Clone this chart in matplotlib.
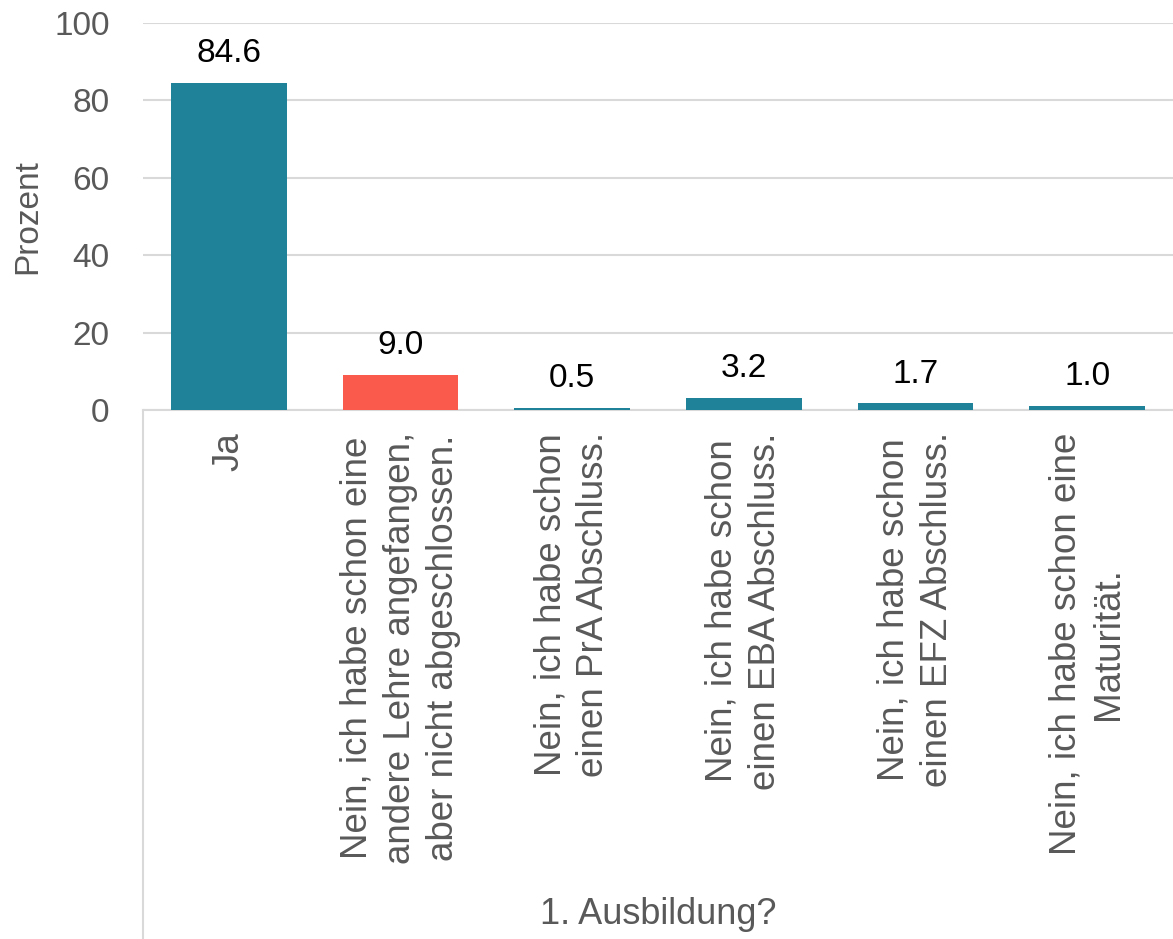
import matplotlib.pyplot as plt

plt.rcParams['font.family'] = ['Liberation Sans', 'DejaVu Sans']

categories = [
    "Ja",
    "Nein, ich habe schon eine\nandere Lehre angefangen,\naber nicht abgeschlossen.",
    "Nein, ich habe schon\neinen PrA Abschluss.",
    "Nein, ich habe schon\neinen EBA Abschluss.",
    "Nein, ich habe schon\neinen EFZ Abschluss.",
    "Nein, ich habe schon eine\nMaturität.",
]
values = [84.6, 9.0, 0.5, 3.2, 1.7, 1.0]
colors = ["#1f8299", "#fa5a4b", "#1f8299", "#1f8299", "#1f8299", "#1f8299"]

grid_col = "#d9d9d9"
text_col = "#595959"

fig = plt.figure(figsize=(11.73, 9.39), dpi=100)
ax = fig.add_axes([143 / 1173, 1 - 410 / 939, 1 - 143 / 1173, 387 / 939])

x = range(len(categories))
bars = ax.bar(x, values, width=0.675, color=colors, zorder=3)

for xi, v in zip(x, values):
    ax.annotate(f"{v:.1f}", (xi, v), xytext=(0, 10), textcoords="offset points",
                ha="center", va="bottom", fontsize=24, color="black")

ax.set_xlim(-0.5, len(categories) - 0.5)
ax.set_ylim(0, 100)
ax.set_yticks([0, 20, 40, 60, 80, 100])
ax.yaxis.grid(True, color=grid_col, linewidth=1.5, zorder=0)

ax.set_xticks(list(x))
ax.set_xticklabels(categories, rotation=90, ha="center", va="top", fontsize=26.5,
                   color=text_col, linespacing=1.3)
ax.tick_params(axis="x", length=0, pad=16)
ax.tick_params(axis="y", length=0, pad=24, labelsize=24, labelcolor=text_col)

for s in ["top", "right", "left"]:
    ax.spines[s].set_visible(False)
ax.spines["bottom"].set_color(grid_col)
ax.spines["bottom"].set_linewidth(1.5)

# category axis line running down through the labels
ax.plot([0, 0], [0, -1.4], transform=ax.transAxes, color=grid_col, lw=1.5, clip_on=False)

ax.set_ylabel("Prozent", fontsize=24, color=text_col, va="center")
ax.yaxis.set_label_coords(-0.112, 0.5)

ax.set_xlabel("1. Ausbildung?", fontsize=26, color=text_col)
ax.xaxis.label.set_va("center")
ax.xaxis.set_label_coords(0.5, (410 - 915) / 387)

fig.savefig("out.png", dpi=100)
